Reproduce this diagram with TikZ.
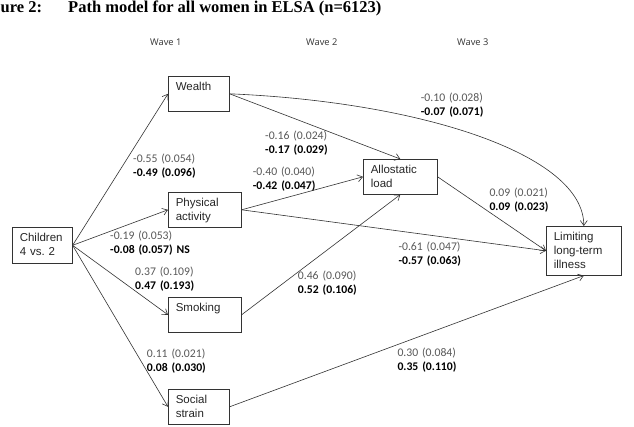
\documentclass[tikz,border=0pt]{standalone}
\usepackage{fontspec}
\setmainfont{Liberation Sans}
\newfontfamily\titlefont{Liberation Serif}
\newfontfamily\labfam{Carlito}
\newfontfamily\wavefam{Open Sans}
\usetikzlibrary{arrows.meta,calc}
\frenchspacing
\begin{document}
\begin{tikzpicture}[x=1pt,y=-1pt,
  box/.style={draw=black!80, line width=0.6pt, anchor=north west, inner xsep=7.5pt, inner ysep=5pt,
    align=left, text height=9.3pt, text depth=15.7pt, font=\fontsize{11.5}{14}\selectfont, text=black!85},
  lab/.style={anchor=base west, inner sep=0pt, align=left, text width=90pt,
    font=\labfam\fontsize{11.7}{14}\selectfont, text=black!65},
  wave/.style={anchor=base west, inner sep=0pt, font=\wavefam\fontsize{9.3}{11}\selectfont, text=black!80},
  ttl/.style={anchor=base west, inner sep=0pt, font=\titlefont\bfseries\fontsize{16.5}{18}\selectfont},
  arr/.style={draw=black!80, line width=0.6pt, -{Straight Barb[length=5pt,width=7pt]}}]
\useasboundingbox (0,0) rectangle (634,426);
\fill[white] (0,0) rectangle (634,426);
% title
\node[ttl] (t1) at (0.5,12.5) {ure 2:};
\node[ttl] (t2) at (68,12.5) {Path model for all women in ELSA (n=6123)};
% waves
\node[wave] (w1) at (150,45.7) {Wave 1};
\node[wave] (w2) at (306,45.7) {Wave 2};
\node[wave] (w3) at (457,45.7) {Wave 3};
% boxes
\node[box, text width=46pt] (wealth) at (168,76) {Wealth};
\node[box, text width=58pt] (physical) at (168,192) {Physical\\activity};
\node[box, text width=45pt, text depth=16.7pt] (children) at (12,227) {Children\\4 vs.\ 2};
\node[box, text width=58pt] (smoking) at (168,297) {Smoking};
\node[box, text width=46pt] (social) at (168,389) {Social\\strain};
\node[box, text width=59pt] (allostatic) at (363,159) {Allostatic\\load};
\node[box, text width=60pt, text depth=29.7pt] (limiting) at (546,226) {Limiting\\long-term\\illness};
% connectors
\draw[arr] (children.east) -- (wealth.west);
\draw[arr] (children.east) -- (physical.west);
\draw[arr] (children.east) -- (smoking.west);
\draw[arr] (children.east) -- (social.west);
\draw[arr] (wealth.east) -- (allostatic.north);
\draw[arr] (wealth.east) .. controls ($(wealth.east)+(190,8)$) and ($(limiting.north)+(0,-72)$) .. (limiting.north);
\draw[arr] (physical.east) -- (allostatic.west);
\draw[arr] (physical.east) -- (limiting.west);
\draw[arr] (smoking.east) -- (allostatic.south);
\draw[arr] (allostatic.east) -- (limiting.west);
\draw[arr] (social.east) -- (limiting.south);
% labels
\node[lab] (l1) at (133,162.7) {-0.55 (0.054)\\\textcolor{black}{\bfseries -0.49 (0.096)}};
\node[lab] (l2) at (265,139.5) {-0.16 (0.024)\\\textcolor{black}{\bfseries -0.17 (0.029)}};
\node[lab] (l3) at (252.7,175) {-0.40 (0.040)\\\textcolor{black}{\bfseries -0.42 (0.047)}};
\node[lab] (l4) at (420.7,101.7) {-0.10 (0.028)\\\textcolor{black}{\bfseries -0.07 (0.071)}};
\node[lab] (l5) at (489.3,196.7) {0.09 (0.021)\\\textcolor{black}{\bfseries 0.09 (0.023)}};
\node[lab] (l6) at (398.3,250.7) {-0.61 (0.047)\\\textcolor{black}{\bfseries -0.57 (0.063)}};
\node[lab] (l7) at (297.7,279) {0.46 (0.090)\\\textcolor{black}{\bfseries 0.52 (0.106)}};
\node[lab] (l8) at (110,239) {-0.19 (0.053)\\\textcolor{black}{\bfseries -0.08 (0.057) NS}};
\node[lab] (l9) at (135,275.7) {0.37 (0.109)\\\textcolor{black}{\bfseries 0.47 (0.193)}};
\node[lab] (l10) at (146.7,357.3) {0.11 (0.021)\\\textcolor{black}{\bfseries 0.08 (0.030)}};
\node[lab] (l11) at (397.3,356.7) {0.30 (0.084)\\\textcolor{black}{\bfseries 0.35 (0.110)}};
\end{tikzpicture}
\end{document}
